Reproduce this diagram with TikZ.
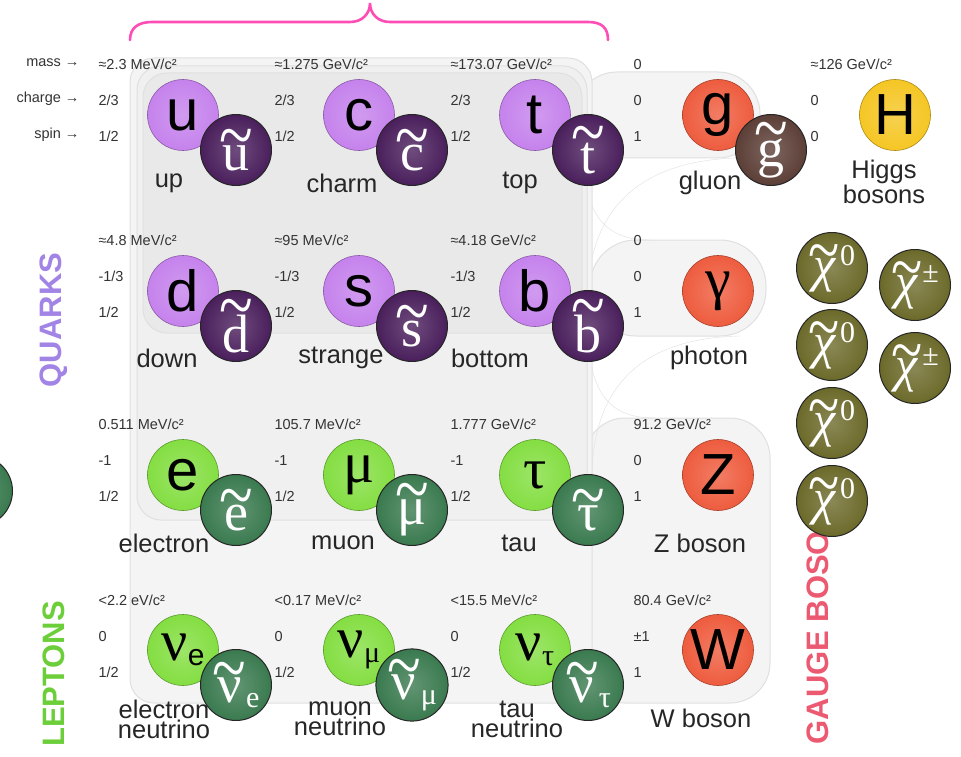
\documentclass[tikz,border=0pt]{standalone}
\usepackage{fontspec}
\usepackage{graphicx}
\setmainfont{Liberation Sans}
\newfontfamily\serffont{Liberation Serif}
\usetikzlibrary{positioning}
\definecolor{quarkc}{HTML}{C582EC}
\definecolor{squarkc}{HTML}{4A1F5C}
\definecolor{leptonc}{HTML}{84DE42}
\definecolor{sleptonc}{HTML}{3A7A4F}
\definecolor{bosonc}{HTML}{EE5C3E}
\definecolor{gluinoc}{HTML}{5C3F37}
\definecolor{higgsc}{HTML}{F5C624}
\definecolor{chic}{HTML}{6C6A2A}
\definecolor{quarktxt}{HTML}{A283E6}
\definecolor{leptontxt}{HTML}{6CCF3A}
\definecolor{gaugetxt}{HTML}{EC5A72}
\definecolor{bracec}{HTML}{FF4DB6}
\definecolor{panelc}{HTML}{F4F4F4}
\definecolor{panelline}{HTML}{E0E0E0}

\newcommand\propfont{\fontsize{14.5}{36}\selectfont}
\newcommand\namefont{\fontsize{25.5}{20}\selectfont}
\newcommand\letterfont{\fontsize{58}{58}\selectfont}
\newcommand\sletterfont{\serffont\fontsize{54}{54}\selectfont}
\newcommand\sidefont{\fontsize{31}{31}\selectfont\bfseries}
\newcommand\subfont{\fontsize{30}{30}\selectfont}
% tilde over a letter
\newcommand\stil[1]{\vbox{\offinterlineskip\halign{\hfil##\hfil\cr
  \scalebox{1.15}[1.4]{\char"7E}\cr\noalign{\kern-15pt}#1\cr}}}
\newcommand\nusub[1]{{\serffont ν}\raisebox{-5pt}{\subfont #1}}

\tikzset{
  ball/.style={circle, minimum size=71, inner sep=0pt, draw=#1!70!black,
    line width=0.6, inner color=#1!80!white, outer color=#1},
  quark/.style={ball=quarkc, font=\letterfont},
  lepton/.style={ball=leptonc, font=\letterfont},
  boson/.style={ball=bosonc, font=\letterfont},
  higgs/.style={ball=higgsc, font=\letterfont},
  sball/.style={ball=#1, text=white, font=\sletterfont, draw=black!85, line width=1},
  squark/.style={sball=squarkc},
  slepton/.style={sball=sleptonc},
  gluino/.style={sball=gluinoc},
  chi/.style={sball=chic, font=\serffont\fontsize{50}{50}\selectfont},
  props/.style={font=\propfont, align=left, anchor=west, text=black!80},
  pname/.style={font=\namefont, align=center, text=black!85},
  side/.style={font=\sidefont, rotate=90},
  panel/.style={fill=panelc, draw=panelline, line width=1},
  brace/.style={draw=bracec, line width=2.6, line cap=round}
}

\begin{document}
\begin{tikzpicture}[x=1pt, y=-1pt]
  \useasboundingbox[fill=white] (0,0) rectangle (961,757);

  % Gauge boson panels
  \draw[panel, rounded corners=40] (585,418) rectangle (770,703);
  \draw[panel, rounded corners=46] (590,240) rectangle (766,336);
  \draw[panel, rounded corners=42] (575,72) rectangle (760,158);
  \draw[panelline] (738,158) .. controls (650,160) and (592,200) .. (588,290);
  \draw[panelline] (740,336) .. controls (650,338) and (596,378) .. (592,470);
  \draw[panelline] (582,150) .. controls (584,215) and (605,240) .. (650,240);
  \draw[panelline] (587,330) .. controls (590,395) and (610,418) .. (655,418);

  % Fermion panels
  \draw[panel, rounded corners=24] (130,58) rectangle (592,703);
  \draw[panel, fill=black!6, rounded corners=24] (137,66) rectangle (587,520);
  \draw[panel, fill=black!8.5, rounded corners=24] (143,73) rectangle (582,333);

  % Brace over the quarks
  \draw[brace] (130,40) .. controls (130,28) and (138,22) .. (152,22) -- (350,22)
    .. controls (362,22) and (370,14) .. (370,3)
    .. controls (370,14) and (378,22) .. (390,22) -- (588,22)
    .. controls (602,22) and (608,28) .. (608,40);

  % Group labels
  \node[side, text=quarktxt] (quarks) at (54,320) {QUARKS};
  \node[side, text=leptontxt] (leptons) at (54,674) {LEPTONS};
  \node[side, text=gaugetxt, anchor=west] (gauge) at (818,748) {GAUGE BOSO};

  % Properties
  \node[props, anchor=east, align=right] (heads) at (83,100) {mass →\\charge →\\spin →};
  \node[props] (u-data) at (95,100) {≈2.3 MeV/c²\\2/3\\1/2};
  \node[props] (c-data) at (271,100) {≈1.275 GeV/c²\\2/3\\1/2};
  \node[props] (t-data) at (447,100) {≈173.07 GeV/c²\\2/3\\1/2};
  \node[props] (g-data) at (630,100) {0\\0\\1};
  \node[props] (H-data) at (807,100) {≈126 GeV/c²\\0\\0};
  \node[props] (d-data) at (95,276) {≈4.8 MeV/c²\\-1/3\\1/2};
  \node[props] (s-data) at (271,276) {≈95 MeV/c²\\-1/3\\1/2};
  \node[props] (b-data) at (447,276) {≈4.18 GeV/c²\\-1/3\\1/2};
  \node[props] (gam-data) at (630,276) {0\\0\\1};
  \node[props] (e-data) at (95,460) {0.511 MeV/c²\\-1\\1/2};
  \node[props] (mu-data) at (271,460) {105.7 MeV/c²\\-1\\1/2};
  \node[props] (tau-data) at (447,460) {1.777 GeV/c²\\-1\\1/2};
  \node[props] (Z-data) at (630,460) {91.2 GeV/c²\\0\\1};
  \node[props] (nue-data) at (95,636) {<2.2 eV/c²\\0\\1/2};
  \node[props] (numu-data) at (271,636) {<0.17 MeV/c²\\0\\1/2};
  \node[props] (nutau-data) at (447,636) {<15.5 MeV/c²\\0\\1/2};
  \node[props] (W-data) at (630,636) {80.4 GeV/c²\\±1\\1};

  % Names
  \node[pname] (u-name) at (169,183) {up};
  \node[pname] (c-name) at (342,183) {charm};
  \node[pname] (t-name) at (520,183) {top};
  \node[pname] (g-name) at (710,183) {gluon};
  \node[pname] (H-name) at (884,182) {Higgs\\bosons};
  \node[pname] (d-name) at (167,358) {down};
  \node[pname] (s-name) at (341,358) {strange};
  \node[pname] (b-name) at (490,358) {bottom};
  \node[pname] (gam-name) at (709,358) {photon};
  \node[pname] (e-name) at (164,543) {electron};
  \node[pname] (mu-name) at (343,543) {muon};
  \node[pname] (tau-name) at (519,543) {tau};
  \node[pname] (Z-name) at (700,543) {Z boson};
  \node[pname] (nue-name) at (164,719) {electron\\neutrino};
  \node[pname] (numu-name) at (340,719) {muon\\neutrino};
  \node[pname] (nutau-name) at (517,719) {tau\\neutrino};
  \node[pname] (W-name) at (701,718) {W boson};

  % Particles
  \node[quark] (u) at (183,115) {u};
  \node[quark] (c) at (359,115) {c};
  \node[quark] (t) at (535,115) {t};
  \node[quark] (d) at (183,291) {d};
  \node[quark] (s) at (359,291) {s};
  \node[quark] (b) at (535,291) {b};
  \node[lepton] (e) at (183,475) {e};
  \node[lepton] (mu) at (359,475) {\serffont μ};
  \node[lepton] (tau) at (535,475) {\serffont τ};
  \node[lepton] (nue) at (183,650) {\nusub{e}};
  \node[lepton] (numu) at (359,650) {\nusub{\serffont μ}};
  \node[lepton] (nutau) at (535,650) {\nusub{\serffont τ}};
  \node[boson] (g) at (718,115) {g};
  \node[boson] (gam) at (718,291) {\serffont γ};
  \node[boson] (Z) at (718,475) {Z};
  \node[boson] (W) at (718,650) {W};
  \node[higgs] (H) at (895,115) {H};

  % Superpartners
  \node[squark] (su) at ([shift={(53,35)}]u.center) {\stil{u}};
  \node[squark] (sc) at ([shift={(53,35)}]c.center) {\stil{c}};
  \node[squark] (st) at ([shift={(53,35)}]t.center) {\stil{t}};
  \node[squark] (sd) at ([shift={(53,35)}]d.center) {\stil{d}};
  \node[squark] (ss) at ([shift={(53,35)}]s.center) {\stil{s}};
  \node[squark] (sb) at ([shift={(53,35)}]b.center) {\stil{b}};
  \node[slepton] (se) at ([shift={(53,35)}]e.center) {\stil{e}};
  \node[slepton] (smu) at ([shift={(53,35)}]mu.center) {\stil{μ}};
  \node[slepton] (stau) at ([shift={(53,35)}]tau.center) {\stil{τ}};
  \node[slepton] (snue) at ([shift={(53,35)}]nue.center) {\stil{ν}\raisebox{-5pt}{\subfont e}};
  \node[slepton] (snumu) at ([shift={(53,35)}]numu.center) {\stil{ν}\raisebox{-5pt}{\subfont μ}};
  \node[slepton] (snutau) at ([shift={(53,35)}]nutau.center) {\stil{ν}\raisebox{-5pt}{\subfont τ}};
  \node[gluino] (sg) at ([shift={(53,35)}]g.center) {\stil{g}};
  \node[slepton] (cut) at (-23,491) {};

  % Neutralinos and charginos
  \node[chi] (n1) at (832,268) {\stil{\itshape χ}\raisebox{16pt}{\subfont 0}};
  \node[chi] (n2) at (832,345) {\stil{\itshape χ}\raisebox{16pt}{\subfont 0}};
  \node[chi] (n3) at (832,423) {\stil{\itshape χ}\raisebox{16pt}{\subfont 0}};
  \node[chi] (n4) at (832,501) {\stil{\itshape χ}\raisebox{16pt}{\subfont 0}};
  \node[chi] (c1) at (915,285) {\stil{\itshape χ}\raisebox{16pt}{\subfont ±}};
  \node[chi] (c2) at (915,368) {\stil{\itshape χ}\raisebox{16pt}{\subfont ±}};
\end{tikzpicture}
\end{document}
